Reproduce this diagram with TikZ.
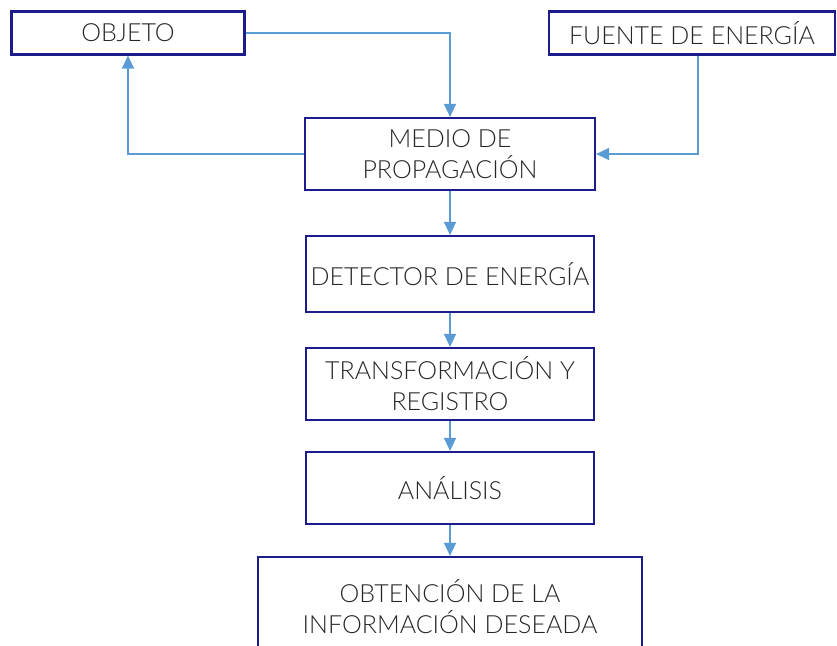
\documentclass[tikz,border=0pt]{standalone}
\usepackage{fontspec}
\setmainfont{Lato}[UprightFont={* Light}]
\usepackage{xcolor}
\usepackage{tikz}
\usetikzlibrary{arrows.meta}

\definecolor{marco}{HTML}{1C1C8C}
\definecolor{flechaazul}{HTML}{5B9BD5}

\begin{document}
\begin{tikzpicture}[x=1pt, y=-1pt,
    caja/.style={rectangle, draw=marco, line width=2.2pt, align=center, inner sep=2pt,
        font=\fontsize{25}{31}\selectfont, text=black!85},
    flecha/.style={draw=flechaazul, line width=1.4pt, -{Triangle[length=13pt, width=12pt]}}]
    \useasboundingbox (0,0) rectangle (837,645);
    \node[caja, minimum width=233pt, minimum height=43pt] (objeto) at (128,33) {OBJETO};
    \node[caja, minimum width=286pt, minimum height=43pt] (fuente) at (692,33) {FUENTE DE ENERGÍA};
    \node[caja, minimum width=290pt, minimum height=72pt] (medio) at (450,154) {MEDIO DE\\PROPAGACIÓN};
    \node[caja, minimum width=288pt, minimum height=76pt] (detector) at (450,274) {DETECTOR DE ENERGÍA};
    \node[caja, minimum width=288pt, minimum height=72pt] (registro) at (450,384) {TRANSFORMACIÓN Y\\REGISTRO};
    \node[caja, minimum width=288pt, minimum height=72pt] (analisis) at (450,488) {ANÁLISIS};
    \node[caja, minimum width=384pt, minimum height=100pt] (informacion) at (450,607) {OBTENCIÓN DE LA\\INFORMACIÓN DESEADA};

    \draw[flecha] (objeto.east) -| (medio.north);
    \draw[flecha] ([xshift=6pt]fuente.south) |- (medio.east);
    \draw[flecha] (medio.west) -| (objeto.south);
    \draw[flecha] (medio.south) -- (detector.north);
    \draw[flecha] (detector.south) -- (registro.north);
    \draw[flecha] (registro.south) -- (analisis.north);
    \draw[flecha] (analisis.south) -- (informacion.north);
\end{tikzpicture}
\end{document}
